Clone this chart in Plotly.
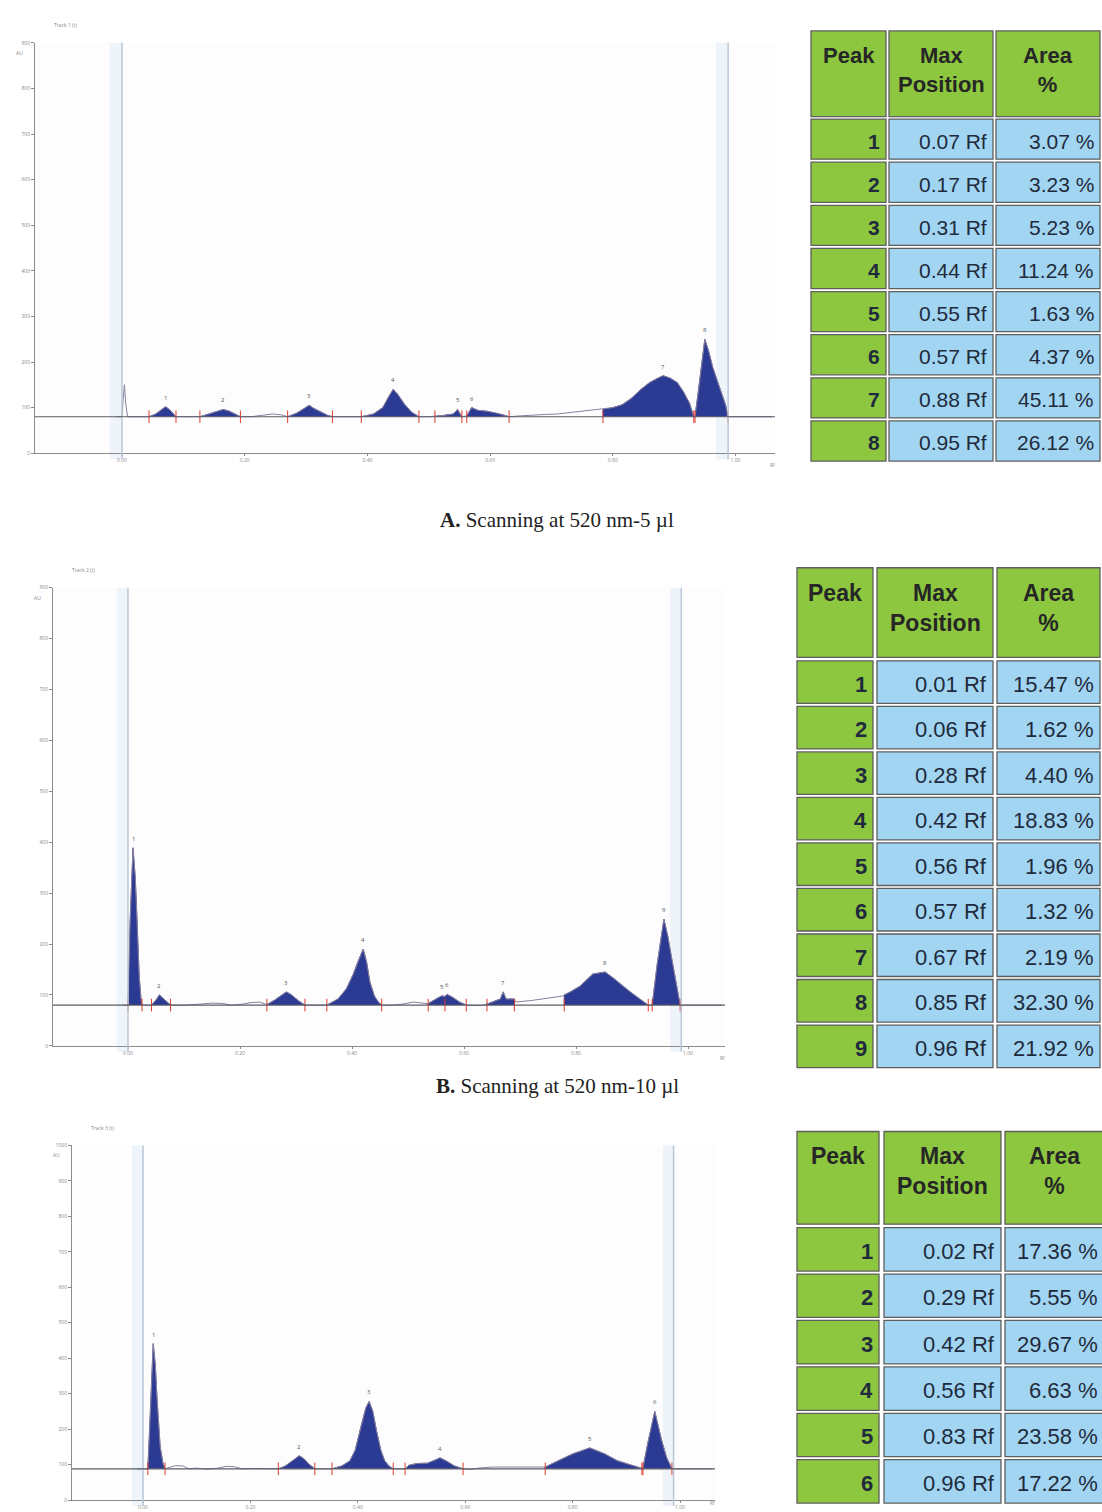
import plotly.graph_objects as go

W, H = 1102, 1512

# ---- chromatogram profiles (Rf, AU) ----
a_rf = [-0.01, 0.000, 0.002, 0.004, 0.006, 0.009,
        0.044, 0.055, 0.064, 0.071, 0.078, 0.084, 0.088,
        0.105, 0.120, 0.127, 0.140, 0.155, 0.165, 0.175, 0.185, 0.193,
        0.210, 0.230, 0.245, 0.260, 0.270, 0.285, 0.297, 0.305, 0.313, 0.325, 0.335, 0.343,
        0.360, 0.390, 0.410, 0.425, 0.435, 0.442, 0.450, 0.460, 0.472, 0.484,
        0.500, 0.510, 0.525, 0.540, 0.547, 0.551, 0.554, 0.562, 0.570, 0.580, 0.595, 0.610, 0.622, 0.631,
        0.650, 0.670, 0.690, 0.710, 0.730, 0.750, 0.765, 0.782,
        0.784, 0.800, 0.815, 0.830, 0.845, 0.860, 0.875, 0.882, 0.893, 0.905, 0.915, 0.925, 0.932,
        0.934, 0.940, 0.945, 0.950, 0.956, 0.963, 0.970, 0.978, 0.984, 0.988, 1.060]
a_au = [80, 80, 120, 150, 110, 80,
        80, 86, 95, 102, 95, 86, 80,
        80, 79, 80, 85, 92, 96, 92, 86, 80,
        80, 83, 86, 84, 80, 88, 98, 105, 98, 89, 83, 80,
        80, 80, 86, 100, 125, 140, 128, 108, 90, 80,
        80, 81, 83, 86, 96, 86, 80, 82, 100, 94, 92, 88, 84, 80,
        82, 84, 85, 86, 89, 91, 94, 96,
        96, 100, 106, 120, 139, 155, 166, 170, 165, 155, 135, 110, 80,
        80, 140, 200, 250, 225, 188, 160, 128, 105, 80, 80]
a_base = 80
a_start = [0.044, 0.127, 0.270, 0.390, 0.510, 0.562, 0.784, 0.934]
a_end = [0.088, 0.193, 0.343, 0.484, 0.554, 0.631, 0.932, 0.988]
a_top = [102, 96, 105, 140, 96, 100, 170, 250]

b_rf = [-0.01, 0.000, 0.004, 0.009, 0.013, 0.016, 0.020, 0.023, 0.025,
        0.042, 0.050, 0.056, 0.065, 0.072, 0.076,
        0.100, 0.130, 0.150, 0.170, 0.185, 0.205, 0.220, 0.235,
        0.248, 0.262, 0.275, 0.283, 0.292, 0.305, 0.316,
        0.330, 0.345, 0.355, 0.375, 0.390, 0.402, 0.410, 0.416, 0.420, 0.426, 0.432, 0.440, 0.447, 0.453,
        0.470, 0.490, 0.510, 0.525, 0.536, 0.550, 0.560, 0.566, 0.570, 0.580, 0.592, 0.604,
        0.615, 0.630, 0.641, 0.655, 0.665, 0.670, 0.675, 0.690,
        0.692, 0.720, 0.750, 0.777,
        0.779, 0.790, 0.807, 0.830, 0.852, 0.868, 0.884, 0.900, 0.914, 0.929,
        0.936, 0.945, 0.957, 0.964, 0.971, 0.980, 0.986, 1.060]
b_au = [80, 80, 250, 389, 330, 254, 137, 95, 80,
        80, 90, 100, 92, 84, 80,
        80, 82, 84, 83, 80, 82, 85, 86,
        81, 90, 101, 106, 100, 88, 80,
        80, 79, 80, 92, 112, 140, 164, 182, 190, 165, 125, 98, 86, 80,
        80, 82, 86, 84, 83, 92, 98, 97, 101, 95, 86, 80,
        80, 79, 82, 88, 92, 106, 92, 92,
        86, 89, 93, 98,
        100, 106, 117, 141, 145, 132, 117, 103, 92, 80,
        80, 160, 249, 215, 170, 112, 80, 80]
b_base = 80
b_start = [0.000, 0.042, 0.248, 0.355, 0.536, 0.566, 0.641, 0.779, 0.936]
b_end = [0.025, 0.076, 0.316, 0.453, 0.566, 0.604, 0.690, 0.929, 0.986]
b_top = [389, 100, 106, 190, 98, 101, 106, 145, 249]

c_rf = [-0.01, 0.009, 0.014, 0.019, 0.023, 0.026, 0.032, 0.037, 0.041,
        0.050, 0.060, 0.075, 0.085, 0.100, 0.120, 0.140, 0.155, 0.170, 0.185, 0.210, 0.230,
        0.252, 0.265, 0.280, 0.291, 0.300, 0.310, 0.320,
        0.335, 0.352, 0.370, 0.385, 0.395, 0.407, 0.415, 0.421, 0.428, 0.435, 0.443, 0.450, 0.458, 0.466,
        0.478, 0.488, 0.495, 0.510, 0.530, 0.545, 0.553, 0.565, 0.580, 0.596,
        0.610, 0.625, 0.650, 0.700,
        0.749, 0.775, 0.800, 0.832, 0.860, 0.883, 0.905, 0.929,
        0.931, 0.940, 0.953, 0.960, 0.966, 0.975, 0.985, 1.060]
c_au = [88, 88, 250, 441, 380, 289, 150, 105, 88,
        92, 97, 96, 88, 90, 87, 90, 95, 94, 88, 89, 88,
        88, 96, 112, 125, 116, 100, 88,
        88, 88, 96, 110, 140, 214, 260, 278, 250, 194, 140, 111, 96, 88,
        88, 88, 98, 103, 104, 113, 119, 110, 96, 88,
        86, 90, 93, 93,
        93, 112, 130, 147, 130, 111, 100, 90,
        90, 160, 250, 205, 167, 120, 88, 88]
c_base = 88
c_start = [0.009, 0.252, 0.352, 0.488, 0.749, 0.931]
c_end = [0.041, 0.320, 0.466, 0.596, 0.929, 0.985]
c_top = [441, 125, 278, 119, 147, 250]

# ---- peak tables ----
a_peak = ["1", "2", "3", "4", "5", "6", "7", "8"]
a_pos = ["0.07 Rf", "0.17 Rf", "0.31 Rf", "0.44 Rf", "0.55 Rf", "0.57 Rf", "0.88 Rf", "0.95 Rf"]
a_area = ["3.07 %", "3.23 %", "5.23 %", "11.24 %", "1.63 %", "4.37 %", "45.11 %", "26.12 %"]

b_peak = ["1", "2", "3", "4", "5", "6", "7", "8", "9"]
b_pos = ["0.01 Rf", "0.06 Rf", "0.28 Rf", "0.42 Rf", "0.56 Rf", "0.57 Rf", "0.67 Rf", "0.85 Rf", "0.96 Rf"]
b_area = ["15.47 %", "1.62 %", "4.40 %", "18.83 %", "1.96 %", "1.32 %", "2.19 %", "32.30 %", "21.92 %"]

c_peak = ["1", "2", "3", "4", "5", "6"]
c_pos = ["0.02 Rf", "0.29 Rf", "0.42 Rf", "0.56 Rf", "0.83 Rf", "0.96 Rf"]
c_area = ["17.36 %", "5.55 %", "29.67 %", "6.63 %", "23.58 %", "17.22 %"]

x_ticks = [0.0, 0.2, 0.4, 0.6, 0.8, 1.0]

FILL = "#2b3a92"
GREEN = "#8dc63f"
BLUE = "#a2d5f2"
SANS = "Liberation Sans, Arial, sans-serif"
SERIF = "Liberation Serif, DejaVu Serif, serif"


def px(x):
    return x / W


def py(y):
    return 1 - y / H


fig = go.Figure()

panels = [
    # rf, au, base, starts, ends, tops, suffix, x px (left, zero, one, right), y px (zero, top), ymax, track
    (a_rf, a_au, a_base, a_start, a_end, a_top, "", (35, 122, 735.5, 775), (452, 40), 900, "Track 1 (t)"),
    (b_rf, b_au, b_base, b_start, b_end, b_top, "2", (53, 128, 688, 725), (1047, 587), 900, "Track 2 (t)"),
    (c_rf, c_au, c_base, c_start, c_end, c_top, "3", (72, 143, 680, 715), (1503, 1147), 1000, "Track 3 (t)"),
]

for rf, au, base, starts, ends, tops, sfx, xp, yp, ymax, track in panels:
    xa, ya = "x" + sfx, "y" + sfx
    scale = xp[2] - xp[1]
    xr = [(xp[0] - xp[1]) / scale, (xp[3] - xp[1]) / scale]

    # front / end lines of the scan
    for x0 in (0.0, 0.988):
        fig.add_shape(type="rect", xref=xa, yref="paper", x0=x0 - 0.02, x1=x0,
                      y0=py(min(yp[0] + 6, H)), y1=py(yp[1]), fillcolor="#eef4fa", line_width=0,
                      layer="below")
        fig.add_shape(type="line", xref=xa, yref="paper", x0=x0, x1=x0,
                      y0=py(min(yp[0] + 6, H)), y1=py(yp[1]), line=dict(color="#b9c7d6", width=1.5))

    # baseline
    fig.add_shape(type="line", xref=xa, yref=ya, x0=xr[0], x1=xr[1], y0=base, y1=base,
                  line=dict(color="#5b5b66", width=1.2))

    # filled peaks
    for i, (s, e) in enumerate(zip(starts, ends)):
        seg = [(r, v) for r, v in zip(rf, au) if s <= r <= e]
        xs = [s] + [r for r, v in seg] + [e]
        ys = [base] + [v for r, v in seg] + [base]
        fig.add_trace(go.Scatter(x=xs, y=ys, xaxis=xa, yaxis=ya, mode="lines", fill="toself",
                                 fillcolor=FILL, line=dict(color=FILL, width=0.8),
                                 hoverinfo="skip", showlegend=False))
        pk = max(seg, key=lambda t: t[1])
        fig.add_annotation(x=pk[0], y=tops[i], xref=xa, yref=ya, text=str(i + 1), showarrow=False,
                           yshift=9, font=dict(size=6, color="#555"))

    # profile line
    fig.add_trace(go.Scatter(x=rf, y=au, xaxis=xa, yaxis=ya, mode="lines",
                             line=dict(color="#8a7f9c", width=1), hoverinfo="skip", showlegend=False))

    # red integration marks
    marks = sorted(set(starts + ends))
    fig.add_trace(go.Scatter(x=marks, y=[base] * len(marks), xaxis=xa, yaxis=ya, mode="markers",
                             marker=dict(symbol="line-ns", size=9, line=dict(color="#e03a2a", width=1)),
                             hoverinfo="skip", showlegend=False))

    dom_x = [px(xp[0]), px(xp[3])]
    dom_y = [py(yp[0]), py(yp[1])]
    fig.update_layout(**{
        "xaxis" + sfx: dict(domain=dom_x, range=xr, anchor=ya, showgrid=False, zeroline=False,
                            showline=True, linecolor="#8c8c8c", ticks="outside", ticklen=2,
                            tickcolor="#8c8c8c", tickvals=x_ticks,
                            ticktext=[f"{t:.2f}" for t in x_ticks],
                            tickfont=dict(size=5, color="#888")),
        "yaxis" + sfx: dict(domain=dom_y, range=[0, ymax], anchor=xa, showgrid=False, zeroline=False,
                            showline=True, linecolor="#8c8c8c", ticks="outside", ticklen=3,
                            tickcolor="#8c8c8c", tickvals=list(range(0, ymax + 1, 100)),
                            tickfont=dict(size=5, color="#888")),
    })

    fig.add_annotation(x=px(xp[0] + 30), y=py(yp[1] - 18), xref="paper", yref="paper", text=track,
                       showarrow=False, xanchor="center", yanchor="middle", font=dict(size=5, color="#888"))
    fig.add_annotation(x=px(xp[0] - 16), y=py(yp[1] + 10), xref="paper", yref="paper", text="AU",
                       showarrow=False, xanchor="center", yanchor="middle", font=dict(size=5, color="#888"))
    fig.add_annotation(x=px(xp[3] - 3), y=py(min(yp[0] + 12, H - 6)), xref="paper", yref="paper",
                       text="Rf", showarrow=False, xanchor="center", yanchor="middle",
                       font=dict(size=5, color="#888"))


def add_table(cols, head, row_top, row_h, peaks, pos, area, hsize, nsize):
    # cols: [(x0, x1)] for the three columns; head: (y0, y1)
    def cell(x0, x1, y0, y1, color):
        fig.add_shape(type="rect", xref="paper", yref="paper", x0=px(x0), x1=px(x1),
                      y0=py(y1), y1=py(y0), fillcolor=color, line=dict(color="#5e5e5e", width=1.3))

    for x0, x1 in cols:
        cell(x0, x1, head[0], head[1], GREEN)
    fig.add_annotation(x=px((cols[0][0] + cols[0][1]) / 2), y=py(head[0] + 10), xref="paper", yref="paper",
                       text="<b>Peak</b>", showarrow=False, xanchor="center", yanchor="top",
                       font=dict(family=SANS, size=hsize, color="#262626"))
    for c, txt in ((1, "<b>Max</b><br><b>Position</b>"), (2, "<b>Area</b><br><b>%</b>")):
        fig.add_annotation(x=px((cols[c][0] + cols[c][1]) / 2), y=py(head[0] + 10), xref="paper",
                           yref="paper", text=txt, showarrow=False, xanchor="center", yanchor="top",
                           align="center", font=dict(family=SANS, size=hsize, color="#262626"))

    for i in range(len(peaks)):
        y0 = row_top + i * row_h + 1.5
        y1 = row_top + (i + 1) * row_h - 1.5
        ym = (y0 + y1) / 2 + 2
        cell(cols[0][0], cols[0][1], y0, y1, GREEN)
        cell(cols[1][0], cols[1][1], y0, y1, BLUE)
        cell(cols[2][0], cols[2][1], y0, y1, BLUE)
        for c, txt, bold in ((0, peaks[i], True), (1, pos[i], False), (2, area[i], False)):
            fig.add_annotation(x=px(cols[c][1] - 4), y=py(ym), xref="paper", yref="paper",
                               text=f"<b>{txt}</b>" if bold else txt, showarrow=False,
                               xanchor="right", yanchor="middle",
                               font=dict(family=SANS, size=nsize, color="#1f2b3c"))


add_table([(811, 886), (889, 993), (996, 1100)], (28, 114), 115, 43.3, a_peak, a_pos, a_area, 22, 21)
add_table([(797, 873), (877, 993), (997, 1100)], (567, 657), 659, 45.7, b_peak, b_pos, b_area, 23, 22)
add_table([(797, 879), (884, 1001), (1005, 1104)], (1133, 1226), 1228, 46.6, c_peak, c_pos, c_area, 23, 22)

# captions
fig.add_annotation(x=px(557), y=py(519), xref="paper", yref="paper", xanchor="center", yanchor="middle",
                   text="<b>A.</b> Scanning at 520 nm-5 µl", showarrow=False,
                   font=dict(family=SERIF, size=21, color="#222"))
fig.add_annotation(x=px(557), y=py(1087), xref="paper", yref="paper", xanchor="center", yanchor="middle",
                   text="<b>B.</b> Scanning at 520 nm-10 µl", showarrow=False,
                   font=dict(family=SERIF, size=21, color="#222"))

fig.update_layout(width=W, height=H, margin=dict(l=0, r=0, t=0, b=0),
                  paper_bgcolor="white", plot_bgcolor="#fdfdfd", showlegend=False)

# the page body has a default 8px margin; drop it so the figure fills the window
fig.write_html("out.html", config={"displayModeBar": False},
               post_script="document.body.style.margin='0';")
